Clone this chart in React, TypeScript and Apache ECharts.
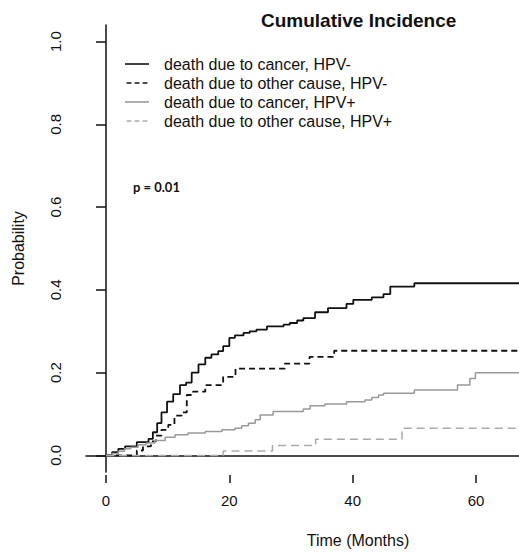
import React, { useEffect, useRef } from "react";
import * as echarts from "echarts";

const titleText = "Cumulative Incidence";
const xAxisTitle = "Time (Months)";
const yAxisTitle = "Probability";
const pValueText = "p = 0.01";

const seriesNames = [
  "death due to cancer, HPV-",
  "death due to other cause, HPV-",
  "death due to cancer, HPV+",
  "death due to other cause, HPV+",
];

const xTicks = [0, 20, 40, 60];
const yTicks = [0, 0.2, 0.4, 0.6, 0.8, 1.0];

// death due to cancer, HPV-
const cancerNegT = [0, 1.0, 2.0, 3.1, 5.0, 6.9, 7.6, 8.3, 9.0, 9.9, 10.9, 12.0, 13.0, 13.9, 15.0, 16.1, 17.1, 18.2, 19.0, 20.0, 20.9, 22.3, 23.3, 24.4, 26.1, 28.8, 29.8, 31.0, 32.0, 33.9, 36.0, 39.0, 40.1, 43.1, 45.0, 46.1, 50.0, 84];
const cancerNegP = [0, 0.008, 0.016, 0.022, 0.032, 0.04, 0.056, 0.078, 0.104, 0.13, 0.148, 0.17, 0.176, 0.2, 0.22, 0.236, 0.244, 0.252, 0.264, 0.284, 0.29, 0.296, 0.3, 0.304, 0.312, 0.316, 0.32, 0.326, 0.332, 0.346, 0.356, 0.366, 0.376, 0.382, 0.39, 0.408, 0.416, 0.416];

// death due to other cause, HPV-
const otherNegT = [0, 5.0, 6.0, 7.3, 8.1, 9.0, 10.1, 11.1, 12.3, 13.1, 14.1, 16.1, 19.0, 21.0, 29.0, 33.0, 37.0, 84];
const otherNegP = [0, 0.012, 0.022, 0.034, 0.048, 0.062, 0.074, 0.096, 0.104, 0.146, 0.154, 0.17, 0.19, 0.21, 0.222, 0.238, 0.253, 0.253];

// death due to cancer, HPV+
const cancerPosT = [0, 1.0, 2.0, 3.0, 4.0, 5.2, 6.5, 7.9, 9.6, 11.2, 13.3, 16.1, 18.8, 20.9, 22.0, 23.1, 24.2, 25.0, 27.1, 32.0, 33.1, 35.5, 39.0, 42.0, 43.1, 44.2, 45.0, 50.0, 57.0, 59.0, 59.9, 84];
const cancerPosP = [0, 0.005, 0.01, 0.016, 0.02, 0.026, 0.03, 0.036, 0.044, 0.05, 0.054, 0.058, 0.062, 0.066, 0.072, 0.078, 0.086, 0.098, 0.106, 0.112, 0.12, 0.124, 0.13, 0.134, 0.14, 0.146, 0.15, 0.158, 0.17, 0.186, 0.2, 0.2];

// death due to other cause, HPV+
const otherPosT = [0, 19.0, 27.0, 34.0, 48.0, 84];
const otherPosP = [0, 0.011, 0.024, 0.039, 0.066, 0.066];

const FONT = "'Liberation Sans', Arial, Helvetica, sans-serif";

const SOLID_ICON = "path://M0,0h30v2h-30z";
const DASH_ICON = "path://M0,0h6v2h-6z M10,0h6v2h-6z M20,0h6v2h-6z";

function pairs(t: number[], p: number[]) {
  return t.map((v, i) => [v, p[i]]);
}

export default function App() {
  const ref = useRef<HTMLDivElement>(null);
  useEffect(() => {
    if (!ref.current) return;
    const chart = echarts.init(ref.current, null, { renderer: "svg" });
    const xMin = -3.24;
    const xMax = 66.97;
    const mk = (name: string, data: number[][], color: string, type: any, width: number) => ({
      name,
      type: "line",
      step: "end",
      symbol: "none",
      xAxisIndex: 0,
      yAxisIndex: 0,
      data,
      lineStyle: { color, type, width },
      itemStyle: { color },
      silent: true,
    });
    const colors = ["#111111", "#111111", "#999999", "#aaaaaa"];
    const icons = [SOLID_ICON, DASH_ICON, SOLID_ICON, DASH_ICON];
    chart.setOption({
      animation: false,
      backgroundColor: "#ffffff",
      title: {
        text: titleText,
        left: 256,
        top: 6,
        textStyle: { fontFamily: FONT, fontSize: 19, fontWeight: "bold", color: "#111" },
      },
      legend: {
        data: seriesNames.map((n, i) => ({ name: n, icon: icons[i], itemStyle: { color: colors[i] } })),
        orient: "vertical",
        left: 120,
        top: 51,
        itemWidth: 30,
        itemHeight: 1.6,
        itemGap: 3,
        selectedMode: false,
        textStyle: { fontFamily: FONT, fontSize: 16, lineHeight: 16, color: "#111", padding: [0, 0, 0, 7] },
      },
      grid: { left: 86, top: 25, right: 0, bottom: 78, containLabel: false },
      xAxis: [
        {
          type: "value",
          min: xMin,
          max: xMax,
          axisLine: { show: true, lineStyle: { color: "#111", width: 1.5 } },
          axisTick: { show: false },
          axisLabel: { show: false },
          splitLine: { show: false },
        },
        {
          type: "value",
          position: "bottom",
          offset: 3,
          min: xMin,
          max: xMax,
          name: xAxisTitle,
          nameLocation: "middle",
          nameGap: 57,
          nameTextStyle: { fontFamily: FONT, fontSize: 16, color: "#111", padding: [0, 0, 0, 111] },
          axisLine: { show: false },
          axisTick: { show: true, customValues: xTicks, length: 8, lineStyle: { color: "#111", width: 1.5 } },
          axisLabel: { show: true, customValues: xTicks, margin: 18, fontFamily: FONT, fontSize: 15, color: "#111" },
          splitLine: { show: false },
        },
      ],
      yAxis: {
        type: "value",
        min: -0.04,
        max: 1.04,
        name: yAxisTitle,
        nameLocation: "middle",
        nameRotate: 90,
        nameGap: 60,
        nameTextStyle: { fontFamily: FONT, fontSize: 16, color: "#111" },
        axisLine: { show: true, lineStyle: { color: "#111", width: 1.5 } },
        axisTick: { show: true, customValues: yTicks, length: 10, lineStyle: { color: "#111", width: 1.5 } },
        axisLabel: {
          show: true,
          customValues: yTicks,
          rotate: 90,
          margin: 23,
          fontFamily: FONT,
          fontSize: 15,
          color: "#111",
          formatter: (v: number) => v.toFixed(1),
        },
        splitLine: { show: false },
      },
      graphic: [
        {
          type: "text",
          left: 133,
          top: 180,
          style: { text: pValueText, font: "bold 13px Lato, 'Open Sans', sans-serif", fill: "#111" },
        },
      ],
      series: [
        mk(seriesNames[0], pairs(cancerNegT, cancerNegP), colors[0], "solid", 1.8),
        mk(seriesNames[1], pairs(otherNegT, otherNegP), colors[1], [6, 4], 1.8),
        mk(seriesNames[2], pairs(cancerPosT, cancerPosP), colors[2], "solid", 1.5),
        mk(seriesNames[3], pairs(otherPosT, otherPosP), colors[3], [8, 5], 1.5),
      ],
    });
    return () => chart.dispose();
  }, []);
  return (
    <div
      ref={ref}
      style={{ position: "fixed", left: 0, top: 0, width: 519, height: 553, background: "#fff" }}
    />
  );
}
